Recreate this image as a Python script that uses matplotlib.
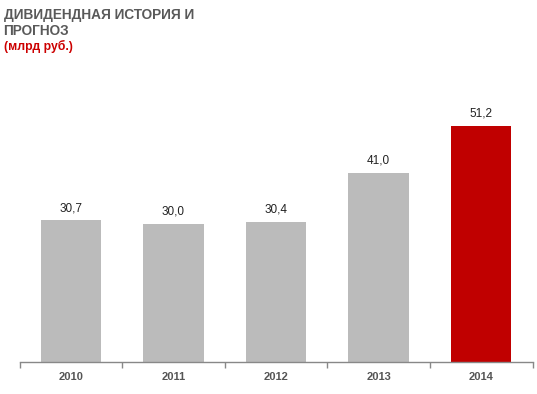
import matplotlib
matplotlib.use("Agg")
import matplotlib.pyplot as plt
from matplotlib.ticker import FixedLocator

plt.rcParams["font.family"] = ["Liberation Sans", "DejaVu Sans"]

YEARS = ["2010", "2011", "2012", "2013", "2014"]
VALUES = [30.7, 30.0, 30.4, 41.0, 51.2]
LABELS = ["30,7", "30,0", "30,4", "41,0", "51,2"]
COLORS = ["#bbbbbb", "#bbbbbb", "#bbbbbb", "#bbbbbb", "#c00000"]

fig = plt.figure(figsize=(5.37, 3.94), dpi=100)
ax = fig.add_axes([19.5 / 537, 1 - 362 / 394, 513 / 537, (362 - 70) / 394])

x = range(len(YEARS))
bars = ax.bar(x, VALUES, width=0.59, color=COLORS)
for b, lab in zip(bars, LABELS):
    ax.annotate(lab, (b.get_x() + b.get_width() / 2, b.get_height()),
                xytext=(0, 4.5), textcoords="offset points",
                ha="center", va="bottom", fontsize=8.5, color="#222222")

ax.set_xlim(-0.5, len(YEARS) - 0.5)
ax.set_ylim(0, 63.3)
ax.set_xticks(list(x))
ax.set_xticklabels(YEARS, fontsize=8, fontweight="bold", color="#555555")
ax.tick_params(axis="x", which="major", length=0, pad=7)
ax.xaxis.set_minor_locator(FixedLocator([i - 0.5 for i in range(len(YEARS) + 1)]))
ax.tick_params(axis="x", which="minor", length=4, color="#888888", width=1)
ax.set_yticks([])
for s in ["top", "right", "left"]:
    ax.spines[s].set_visible(False)
ax.spines["bottom"].set_color("#888888")
ax.spines["bottom"].set_linewidth(1)

fig.text(3.5 / 537, 1 - 8 / 394, "ДИВИДЕНДНАЯ ИСТОРИЯ И\nПРОГНОЗ", ha="left", va="top",
         fontsize=9.8, fontweight="bold", color="#595959", linespacing=1.15)
fig.text(4 / 537, 1 - 39.5 / 394, "(млрд руб.)", ha="left", va="top",
         fontsize=8.8, fontweight="bold", color="#cc0000")

fig.savefig("out.png", dpi=100)
